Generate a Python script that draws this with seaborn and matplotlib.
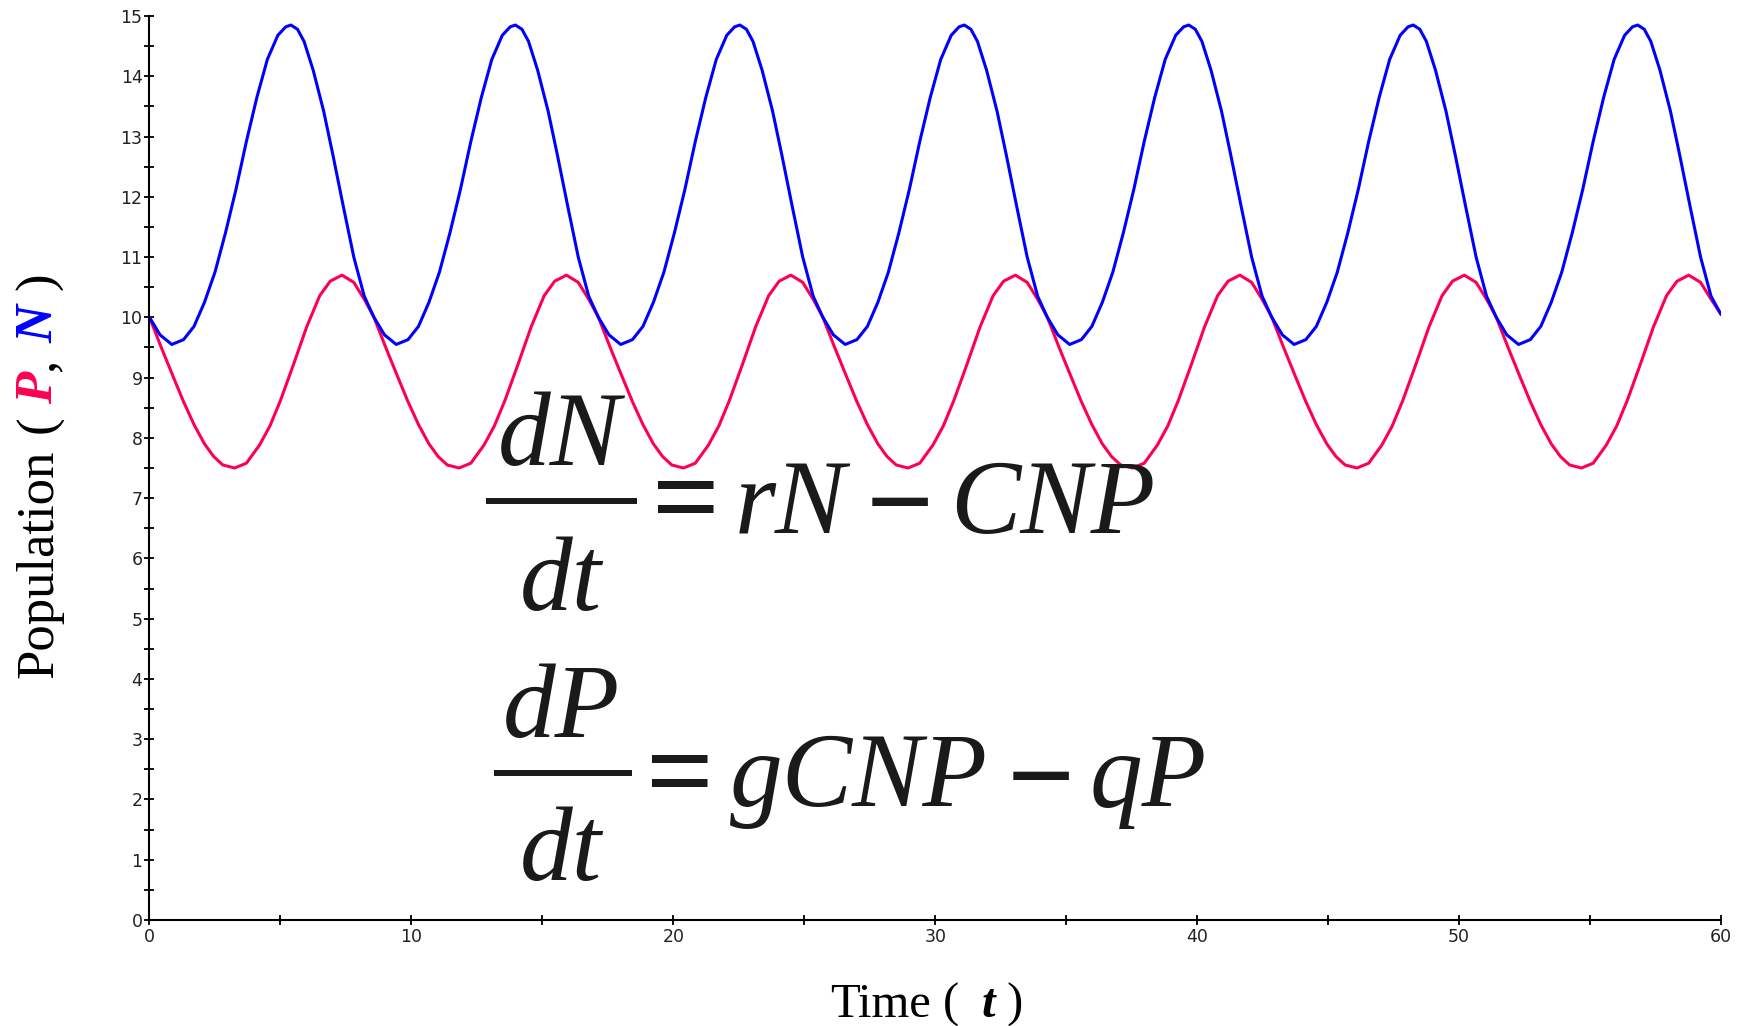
import numpy as np
import pandas as pd
import matplotlib
matplotlib.use('Agg')
import matplotlib.pyplot as plt
import seaborn as sns
from matplotlib.lines import Line2D

W, H = 1740, 1026

# ── Données : proies N (bleu) ─────────────────────────────────────────
t_n = [0, 0.4, 0.85, 1.3, 1.7, 2.1, 2.5, 2.9, 3.3, 3.7, 4.1, 4.5, 4.9, 5.2, 5.4, 5.65, 5.9, 6.25, 6.65, 7.0, 7.4, 7.8, 8.2,
       8.57, 8.97, 9.42, 9.87, 10.27, 10.67, 11.07, 11.47, 11.87, 12.27, 12.67, 13.07, 13.47, 13.77, 13.97, 14.22, 14.47, 14.82, 15.22, 15.57, 15.97, 16.37, 16.77,
       17.14, 17.54, 17.99, 18.44, 18.84, 19.24, 19.64, 20.04, 20.44, 20.84, 21.24, 21.64, 22.04, 22.34, 22.54, 22.79, 23.04, 23.39, 23.79, 24.14, 24.54, 24.94, 25.34,
       25.71, 26.11, 26.56, 27.01, 27.41, 27.81, 28.21, 28.61, 29.01, 29.41, 29.81, 30.21, 30.61, 30.91, 31.11, 31.36, 31.61, 31.96, 32.36, 32.71, 33.11, 33.51, 33.91,
       34.28, 34.68, 35.13, 35.58, 35.98, 36.38, 36.78, 37.18, 37.58, 37.98, 38.38, 38.78, 39.18, 39.48, 39.68, 39.93, 40.18, 40.53, 40.93, 41.28, 41.68, 42.08, 42.48,
       42.85, 43.25, 43.70, 44.15, 44.55, 44.95, 45.35, 45.75, 46.15, 46.55, 46.95, 47.35, 47.75, 48.05, 48.25, 48.50, 48.75, 49.10, 49.50, 49.85, 50.25, 50.65, 51.05,
       51.42, 51.82, 52.27, 52.72, 53.12, 53.52, 53.92, 54.32, 54.72, 55.12, 55.52, 55.92, 56.32, 56.62, 56.82, 57.07, 57.32, 57.67, 58.07, 58.42, 58.82, 59.22, 59.62,
       60.0]
n_pop = [10.00, 9.71, 9.55, 9.63, 9.85, 10.25, 10.75, 11.40, 12.12, 12.92, 13.65, 14.28, 14.68, 14.82, 14.85, 14.78, 14.58, 14.10, 13.42, 12.70, 11.84, 11.00, 10.35,
         10.00, 9.71, 9.55, 9.63, 9.85, 10.25, 10.75, 11.40, 12.12, 12.92, 13.65, 14.28, 14.68, 14.82, 14.85, 14.78, 14.58, 14.10, 13.42, 12.70, 11.84, 11.00, 10.35,
         10.00, 9.71, 9.55, 9.63, 9.85, 10.25, 10.75, 11.40, 12.12, 12.92, 13.65, 14.28, 14.68, 14.82, 14.85, 14.78, 14.58, 14.10, 13.42, 12.70, 11.84, 11.00, 10.35,
         10.00, 9.71, 9.55, 9.63, 9.85, 10.25, 10.75, 11.40, 12.12, 12.92, 13.65, 14.28, 14.68, 14.82, 14.85, 14.78, 14.58, 14.10, 13.42, 12.70, 11.84, 11.00, 10.35,
         10.00, 9.71, 9.55, 9.63, 9.85, 10.25, 10.75, 11.40, 12.12, 12.92, 13.65, 14.28, 14.68, 14.82, 14.85, 14.78, 14.58, 14.10, 13.42, 12.70, 11.84, 11.00, 10.35,
         10.00, 9.71, 9.55, 9.63, 9.85, 10.25, 10.75, 11.40, 12.12, 12.92, 13.65, 14.28, 14.68, 14.82, 14.85, 14.78, 14.58, 14.10, 13.42, 12.70, 11.84, 11.00, 10.35,
         10.00, 9.71, 9.55, 9.63, 9.85, 10.25, 10.75, 11.40, 12.12, 12.92, 13.65, 14.28, 14.68, 14.82, 14.85, 14.78, 14.58, 14.10, 13.42, 12.70, 11.84, 11.00, 10.35,
         10.05]

# ── Prédateurs P (rouge) ─────────────────────────────────────────────
t_p = [0, 0.45, 0.9, 1.3, 1.7, 2.1, 2.45, 2.8, 3.25, 3.7, 4.2, 4.6, 5.0, 5.5, 6.0, 6.5, 6.9, 7.35, 7.8, 8.2,
       8.57, 9.02, 9.47, 9.87, 10.27, 10.67, 11.02, 11.37, 11.82, 12.27, 12.77, 13.17, 13.57, 14.07, 14.57, 15.07, 15.47, 15.92, 16.37, 16.77,
       17.14, 17.59, 18.04, 18.44, 18.84, 19.24, 19.59, 19.94, 20.39, 20.84, 21.34, 21.74, 22.14, 22.64, 23.14, 23.64, 24.04, 24.49, 24.94, 25.34,
       25.71, 26.16, 26.61, 27.01, 27.41, 27.81, 28.16, 28.51, 28.96, 29.41, 29.91, 30.31, 30.71, 31.21, 31.71, 32.21, 32.61, 33.06, 33.51, 33.91,
       34.28, 34.73, 35.18, 35.58, 35.98, 36.38, 36.73, 37.08, 37.53, 37.98, 38.48, 38.88, 39.28, 39.78, 40.28, 40.78, 41.18, 41.63, 42.08, 42.48,
       42.85, 43.30, 43.75, 44.15, 44.55, 44.95, 45.30, 45.65, 46.10, 46.55, 47.05, 47.45, 47.85, 48.35, 48.85, 49.35, 49.75, 50.20, 50.65, 51.05,
       51.42, 51.87, 52.32, 52.72, 53.12, 53.52, 53.87, 54.22, 54.67, 55.12, 55.62, 56.02, 56.42, 56.92, 57.42, 57.92, 58.32, 58.77, 59.22, 59.62,
       60.0]
p_pop = [10.00, 9.50, 9.02, 8.60, 8.22, 7.90, 7.69, 7.55, 7.50, 7.58, 7.88, 8.20, 8.62, 9.22, 9.84, 10.36, 10.60, 10.70, 10.58, 10.30,
         10.00, 9.50, 9.02, 8.60, 8.22, 7.90, 7.69, 7.55, 7.50, 7.58, 7.88, 8.20, 8.62, 9.22, 9.84, 10.36, 10.60, 10.70, 10.58, 10.30,
         10.00, 9.50, 9.02, 8.60, 8.22, 7.90, 7.69, 7.55, 7.50, 7.58, 7.88, 8.20, 8.62, 9.22, 9.84, 10.36, 10.60, 10.70, 10.58, 10.30,
         10.00, 9.50, 9.02, 8.60, 8.22, 7.90, 7.69, 7.55, 7.50, 7.58, 7.88, 8.20, 8.62, 9.22, 9.84, 10.36, 10.60, 10.70, 10.58, 10.30,
         10.00, 9.50, 9.02, 8.60, 8.22, 7.90, 7.69, 7.55, 7.50, 7.58, 7.88, 8.20, 8.62, 9.22, 9.84, 10.36, 10.60, 10.70, 10.58, 10.30,
         10.00, 9.50, 9.02, 8.60, 8.22, 7.90, 7.69, 7.55, 7.50, 7.58, 7.88, 8.20, 8.62, 9.22, 9.84, 10.36, 10.60, 10.70, 10.58, 10.30,
         10.00, 9.50, 9.02, 8.60, 8.22, 7.90, 7.69, 7.55, 7.50, 7.58, 7.88, 8.20, 8.62, 9.22, 9.84, 10.36, 10.60, 10.70, 10.58, 10.30,
         10.05]

x_ticks = [0, 10, 20, 30, 40, 50, 60]
y_ticks = list(range(0, 16))

RED = '#ff0050'
BLUE = '#0000ff'
INK = '#1a1a1a'

sns.set_theme(style='ticks')
plt.rcParams['font.family'] = ['DejaVu Sans']

fig = plt.figure(figsize=(W / 100, H / 100), dpi=100)
ax = fig.add_axes([149.5 / W, 1 - 920 / H, (1721 - 149.5) / W, (920 - 16) / H])

df_n = pd.DataFrame({'t': t_n, 'pop': n_pop})
df_p = pd.DataFrame({'t': t_p, 'pop': p_pop})
sns.lineplot(data=df_p, x='t', y='pop', color=RED, lw=2.2, ax=ax, estimator=None, sort=False)
sns.lineplot(data=df_n, x='t', y='pop', color=BLUE, lw=2.2, ax=ax, estimator=None, sort=False)

ax.set_xlim(0, 60)
ax.set_ylim(0, 15)
ax.set_xticks(x_ticks)
ax.set_xticks([5, 15, 25, 35, 45, 55], minor=True)
ax.set_yticks(y_ticks)
ax.set_yticks(np.arange(0.5, 15, 1), minor=True)
ax.tick_params(which='both', direction='inout', length=7, width=1.3, color='black',
               labelsize=12.5, labelcolor='#222222')
ax.tick_params(axis='y', pad=1.5)
ax.tick_params(axis='x', pad=2.5)
ax.set_xlabel('')
ax.set_ylabel('')
sns.despine(ax=ax)
for s in ['left', 'bottom']:
    ax.spines[s].set_linewidth(1.5)
    ax.spines[s].set_color('black')


def put(x, y, s, **kw):
    # positions en pixels de l'image (origine en haut à gauche)
    fig.text(x / W, 1 - y / H, s, **kw)


def bar(x0, x1, y):
    fig.add_artist(Line2D([x0 / W, x1 / W], [1 - y / H, 1 - y / H], lw=4.3,
                          color=INK, solid_capstyle='butt'))


serif = ['Liberation Serif', 'DejaVu Serif']
eq = dict(family=serif, style='italic', size=76, color=INK, va='baseline')
eq_up = dict(family=serif, size=86, weight='bold', color=INK, va='baseline', ha='center')

# ── Équation dN/dt ───────────────────────────────────────────────────
put(559, 465, 'dN', ha='center', **eq)
bar(486, 637, 501)
put(561, 610, 'dt', ha='center', **eq)
put(686, 536, '=', **eq_up)
put(735, 533, 'rN', ha='left', **eq)
put(900, 541, '\u2212', **eq_up)
put(950, 533, 'CNP', ha='left', **eq)

# ── Équation dP/dt ───────────────────────────────────────────────────
put(561, 737, 'dP', ha='center', **eq)
bar(494, 632, 773)
put(561, 880, 'dt', ha='center', **eq)
put(680, 810, '=', **eq_up)
put(730, 806, 'gCNP', ha='left', **eq)
put(1041, 815, '\u2212', **eq_up)
put(1090, 806, 'qP', ha='left', **eq)

# ── Titres des axes ──────────────────────────────────────────────────
ylab = dict(family=serif, size=38, rotation=90, rotation_mode='anchor',
            ha='center', va='baseline', color='black')
put(52, 563.5, 'Population', **ylab)
put(52, 424.5, '(', **ylab)
put(52, 387.5, 'P', **{**ylab, 'color': RED}, weight='bold', style='italic')
put(52, 364, ',', **ylab)
put(52, 324, 'N', **{**ylab, 'color': BLUE}, weight='bold', style='italic')
put(52, 281.5, ')', **ylab)

xlab = dict(family=serif, size=35, ha='center', va='baseline', color='black')
put(880.5, 1016.7, 'Time', **xlab)
put(951.5, 1016.7, '(', **xlab)
put(988.5, 1016.7, 't', **xlab, weight='bold', style='italic')
put(1015, 1016.7, ')', **xlab)

fig.savefig('out.png', dpi=100)
